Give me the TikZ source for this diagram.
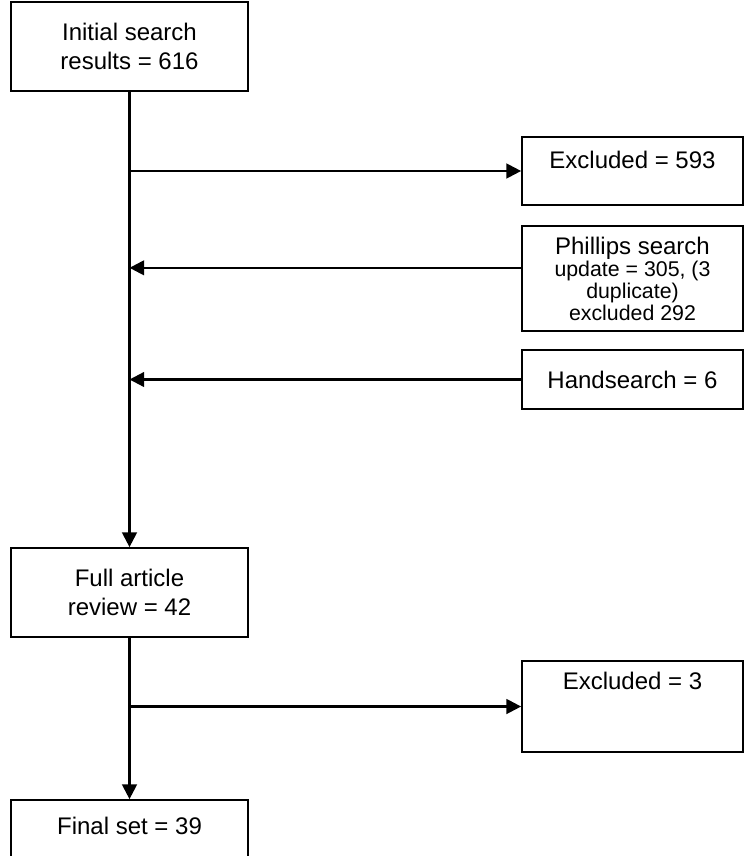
\documentclass[tikz,border=0pt]{standalone}
\usepackage{fontspec}
\setmainfont{Liberation Sans}
\usetikzlibrary{arrows.meta,calc,positioning}

\begin{document}
\begin{tikzpicture}[
  x=0.75pt,y=-0.75pt,
  >={Triangle[length=11pt,width=11pt]},
  box/.style={draw,line width=1.3pt,minimum width=#1,align=center,inner sep=0pt,
    font=\fontsize{18}{21.75}\selectfont},
  flow/.style={->,line width=1.7pt}
]
  \useasboundingbox (0,0) rectangle (748,856);

  % left column
  \node[box=177.75pt,minimum height=66.75pt] (initial) at (129.5,46.5) {Initial search\\results = 616};
  \node[box=177.75pt,minimum height=66.75pt] (full) at (129.5,592.5) {Full article\\review = 42};
  \node[box=177.75pt,minimum height=66.75pt,text height=26pt,text depth=40.75pt] (final) at (129.5,844.5) {Final set = 39};

  % right column
  \node[box=165.75pt,minimum height=51pt,text height=23.75pt,text depth=27.25pt] (excl1) at (632.5,171) {Excluded = 593};
  \node[box=165.75pt,minimum height=78.75pt,font=\fontsize{16}{16.5}\selectfont] (phil) at (632.5,278.5)
    {{\fontsize{18}{16.5}\selectfont Phillips search}\\update = 305, (3\\duplicate)\\excluded 292};
  \node[box=165.75pt,minimum height=44.25pt] (hand) at (632.5,379.5) {Handsearch = 6};
  \node[box=165.75pt,minimum height=68.25pt,text height=21.5pt,text depth=46.75pt] (excl2) at (632.5,706.5) {Excluded = 3};

  % junctions on the trunk
  \coordinate (j1) at (initial.south |- excl1.west);
  \coordinate (p1) at ($(phil.north west)!0.4!(phil.south west)$);
  \coordinate (j2) at (initial.south |- p1);
  \coordinate (j3) at (initial.south |- hand.west);
  \coordinate (j4) at (full.south |- excl2.west);

  \draw[flow] (initial) -- (full);
  \draw[flow] (j1) -- (excl1);
  \draw[flow] (p1) -- (j2);
  \draw[flow] (hand) -- (j3);
  \draw[flow] (full) -- (final);
  \draw[flow] (j4) -- (excl2);
\end{tikzpicture}
\end{document}
